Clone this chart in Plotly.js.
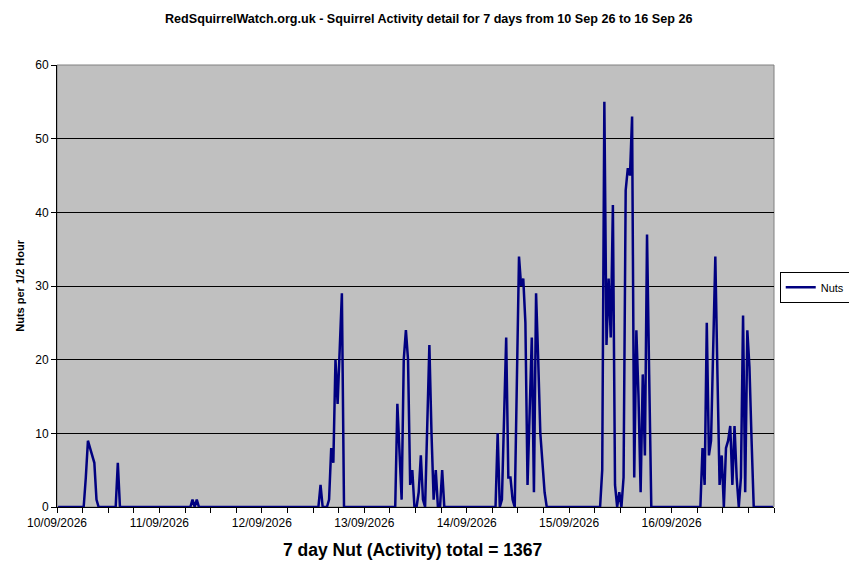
<!DOCTYPE html>
<html>
<head>
<meta charset="utf-8">
<script src="https://cdn.plot.ly/plotly-3.0.1.min.js"></script>
<style>
  body { margin: 0; background: #fff; }
  #plot { width: 849px; height: 578px; }
</style>
</head>
<body>
<div id="plot"></div>
<script>
// nuts per half hour, one array per day (48 readings each)
var day1 = [0,0,0,0,0,0,0,0,0,0, 0,0,0,4,9,8,7,6,1,0, 0,0,0,0,0,0,0,0,6,0, 0,0,0,0,0,0,0,0,0,0, 0,0,0,0,0,0,0,0];
var day2 = [0,0,0,0,0,0,0,0,0,0, 0,0,0,0,0,1,0,1,0,0, 0,0,0,0,0,0,0,0,0,0, 0,0,0,0,0,0,0,0,0,0, 0,0,0,0,0,0,0,0];
var day3 = [0,0,0,0,0,0,0,0,0,0, 0,0,0,0,0,0,0,0,0,0, 0,0,0,0,0,0,0,3,0,0, 0,1,8,6,20,14,22,29,0,0, 0,0,0,0,0,0,0,0];
var day4 = [0,0,0,0,0,0,0,0,0,0, 0,0,0,0,0,14,7,1,20,24, 20,3,5,0,0,2,7,1,0,11, 22,10,1,5,0,0,5,0,0,0, 0,0,0,0,0,0,0,0];
var day5 = [0,0,0,0,0,0,0,0,0,0, 0,0,0,0,10,0,1,12,23,4, 4,1,0,17,34,30,31,25,3,13, 23,2,29,20,10,6,2,0,0,0, 0,0,0,0,0,0,0,0];
var day6 = [0,0,0,0,0,0,0,0,0,0, 0,0,0,0,0,5,55,22,31,23, 41,3,0,2,0,4,43,46,45,53, 4,24,15,2,18,7,37,18,0,0, 0,0,0,0,0,0,0,0];
var day7 = [0,0,0,0,0,0,0,0,0,0, 0,0,0,0,8,3,25,7,9,22, 34,18,3,7,0,8,9,11,3,11, 4,0,4,26,2,24,19,9,0,0, 0,0,0,0,0,0,0,0];

var dayLabels = ["10/09/2026", "11/09/2026", "12/09/2026", "13/09/2026", "14/09/2026", "15/09/2026", "16/09/2026"];
var totalText = "7 day Nut (Activity) total = 1367";
var titleText = "RedSquirrelWatch.org.uk - Squirrel Activity detail for 7 days from 10 Sep 26 to 16 Sep 26";

var nuts = [].concat(day1, day2, day3, day4, day5, day6, day7);
// each half hour sits in the middle of its slot, ticks on the slot edges
var slots = nuts.map((v, i) => i + 0.5);

// a tick every 6 hours, date label once a day
var tickVals = [], tickText = [];
for (var t = 0; t <= nuts.length; t += 12) {
  tickVals.push(t);
  tickText.push(t % 48 == 0 && dayLabels[t / 48] ? dayLabels[t / 48] : "");
}

var trace1 = {
  x: slots,
  y: nuts,
  name: "Nuts",
  type: "scatter",
  mode: "lines",
  line: {color: "#000080", width: 2.5}
};

var layout = {
  width: 849,
  height: 578,
  margin: {l: 57, r: 75, t: 65, b: 71, autoexpand: false},
  paper_bgcolor: "#ffffff",
  plot_bgcolor: "#c0c0c0",
  font: {family: "Arial, Liberation Sans, sans-serif", size: 12, color: "#000"},
  showlegend: true,
  legend: {
    x: 1.008, y: 0.497, xanchor: "left", yanchor: "middle",
    bgcolor: "#ffffff", bordercolor: "#000", borderwidth: 1,
    font: {size: 11}, itemwidth: 30
  },
  xaxis: {
    range: [0, nuts.length],
    tickmode: "array",
    tickvals: tickVals,
    ticktext: tickText,
    ticks: "outside", ticklen: 5, tickcolor: "#000",
    showgrid: false, zeroline: false,
    showline: true, linecolor: "#000", linewidth: 1,
    tickfont: {size: 12}
  },
  yaxis: {
    range: [0, 60],
    dtick: 10,
    ticks: "outside", ticklen: 5, tickcolor: "#000",
    showgrid: true, gridcolor: "#000", gridwidth: 1,
    zeroline: false,
    showline: true, linecolor: "#000", linewidth: 1,
    tickfont: {size: 12}
  },
  shapes: [{
    type: "rect", xref: "paper", yref: "paper", x0: 0, x1: 1, y0: 0, y1: 1,
    line: {color: "#808080", width: 1}, layer: "below"
  }],
  annotations: [
    {
      text: "<b>" + titleText + "</b>", xref: "paper", yref: "paper",
      x: 0.518, y: 1.104, xanchor: "center", yanchor: "middle",
      showarrow: false, font: {size: 12.6}
    },
    {
      text: "<b>Nuts per 1/2 Hour</b>", xref: "paper", yref: "paper",
      x: -0.052, y: 0.5, xanchor: "center", yanchor: "middle",
      textangle: -90, showarrow: false, font: {size: 11}
    },
    {
      text: "<b>" + totalText + "</b>", xref: "paper", yref: "paper",
      x: 0.496, y: -0.097, xanchor: "center", yanchor: "middle",
      showarrow: false, font: {size: 17.5}
    }
  ]
};

Plotly.newPlot("plot", [trace1], layout, {staticPlot: true});
</script>
</body>
</html>
